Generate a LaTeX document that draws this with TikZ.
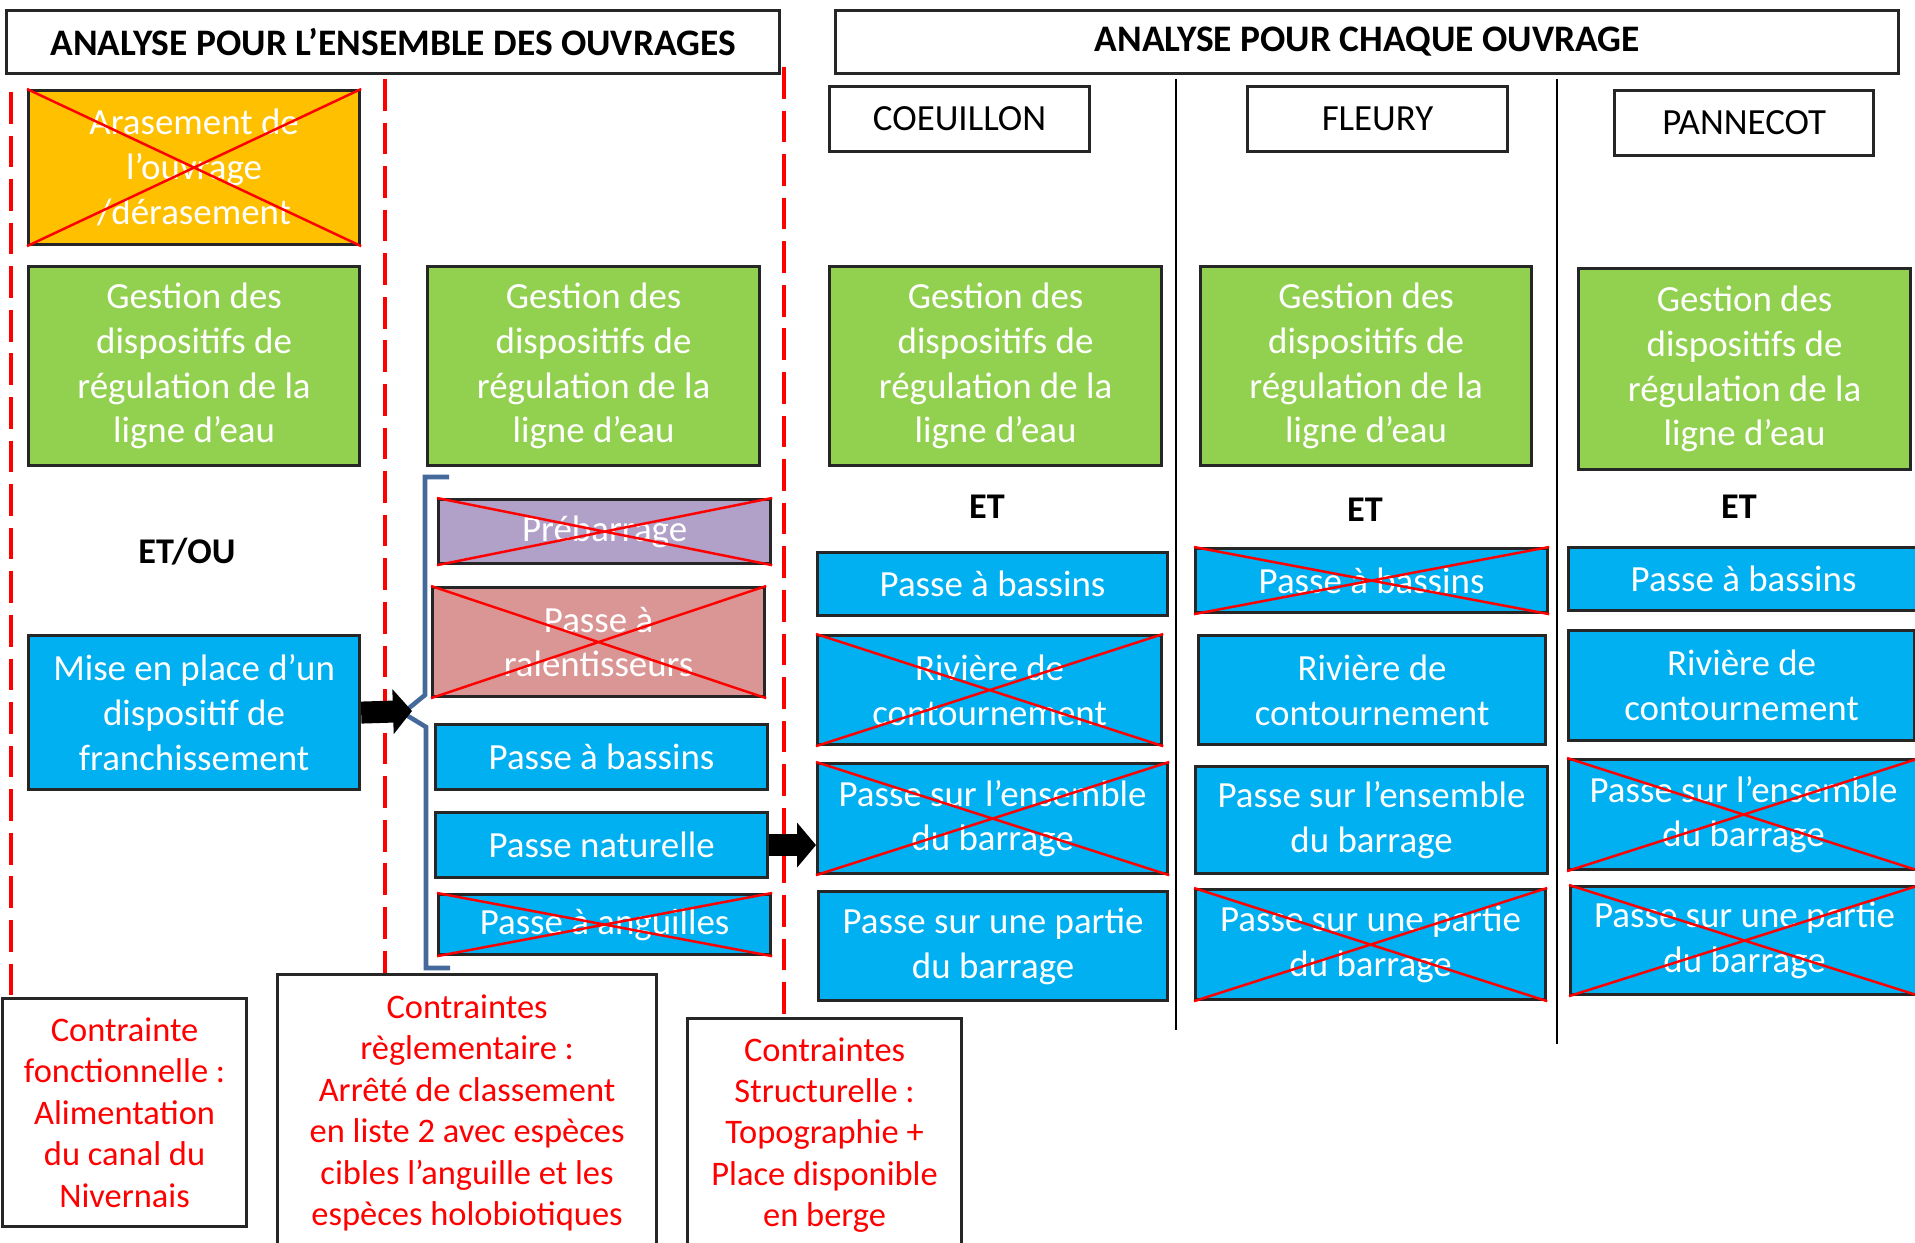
\documentclass[tikz,border=0pt]{standalone}
\usepackage{fontspec}
\setmainfont{Carlito}
\usepackage{tikz}
\usetikzlibrary{arrows.meta}

\definecolor{jaune}{HTML}{FFC000}
\definecolor{vert}{HTML}{92D050}
\definecolor{bleu}{HTML}{00B0F0}
\definecolor{mauve}{HTML}{B1A0C7}
\definecolor{rose}{HTML}{DA9694}
\definecolor{accolade}{HTML}{44699A}

\tikzset{
	cadre/.style={draw=black!85, line width=0.9pt, anchor=north west, inner sep=0pt, align=center, font=\fontsize{10.5}{12.75}\selectfont},
	action/.style={cadre, text=white},
	titre/.style={cadre, font=\bfseries\fontsize{10.65}{12}\selectfont},
	contrainte/.style={cadre, fill=white, text=red, font=\fontsize{9.8}{11.8}\selectfont},
	motcle/.style={font=\bfseries\fontsize{10.3}{12}\selectfont},
	limite/.style={red, line width=1.1pt, dash pattern=on 9pt off 3.4pt},
	separation/.style={black, line width=0.6pt},
	barre/.style={red, line width=0.7pt},
	fleche/.style={line width=0.22cm, -{Triangle[length=0.19cm, width=0.44cm]}}
}

\begin{document}
\begin{tikzpicture}
	\useasboundingbox (0,0) rectangle (19.15,-12.42);
	% titres
	\node[titre, minimum width=7.73cm, minimum height=0.63cm] (titreA) at (0.05,-0.09) {ANALYSE POUR L'ENSEMBLE DES OUVRAGES};
	\node[titre, minimum width=10.63cm, minimum height=0.63cm] (titreB) at (8.34,-0.09) {ANALYSE POUR CHAQUE OUVRAGE};
	\node[cadre, minimum width=2.6cm, minimum height=0.65cm] (coeuillon) at (8.28,-0.85) {COEUILLON};
	\node[cadre, minimum width=2.6cm, minimum height=0.65cm] (fleury) at (12.46,-0.85) {FLEURY};
	\node[cadre, minimum width=2.59cm, minimum height=0.65cm] (pannecot) at (16.13,-0.89) {PANNECOT};

	% contraintes
	\node[contrainte, minimum width=2.44cm, minimum height=2.28cm] (contrA) at (0.01,-9.97) {Contrainte\\fonctionnelle :\\Alimentation\\du canal du\\Nivernais};
	\node[contrainte, minimum width=3.79cm, minimum height=2.77cm] (contrB) at (2.76,-9.73) {Contraintes\\règlementaire :\\Arrêté de classement\\en liste 2 avec espèces\\cibles l'anguille et les\\espèces holobiotiques};
	\node[contrainte, minimum width=2.74cm, minimum height=2.33cm] (contrC) at (6.86,-10.17) {Contraintes\\Structurelle :\\Topographie +\\Place disponible\\en berge};

	\draw[limite] (0.11,-0.92) -- (0.11,-0.92 |- contrA.north);
	\draw[limite] (3.85,-0.79) -- (3.85,-0.79 |- contrB.north);
	\draw[limite] (7.84,-0.67) -- (7.84,-0.67 |- contrC.north);
	\draw[separation] (11.76,-0.79) -- (11.76,-10.30);
	\draw[separation] (15.57,-0.79) -- (15.57,-10.44);

	% ensemble des ouvrages
	\node[action, fill=jaune, minimum width=3.31cm, minimum height=1.54cm] (arasement) at (0.27,-0.89) {Arasement de\\l'ouvrage\\/dérasement};
	\node[action, fill=vert, minimum width=3.31cm, minimum height=1.99cm] (gestionA) at (0.27,-2.65) {Gestion des\\dispositifs de\\régulation de la\\ligne d'eau};
	\node[motcle] (etou) at (1.87,-5.52) {ET/OU};
	\node[action, fill=bleu, minimum width=3.31cm, minimum height=1.54cm] (mise) at (0.27,-6.34) {Mise en place d'un\\dispositif de\\franchissement};

	\node[action, fill=vert, minimum width=3.32cm, minimum height=1.99cm] (gestionB) at (4.26,-2.65) {Gestion des\\dispositifs de\\régulation de la\\ligne d'eau};
	\node[action, fill=mauve, minimum width=3.32cm, minimum height=0.64cm] (prebarrage) at (4.37,-4.98) {Prébarrage};
	\node[action, fill=rose, minimum width=3.32cm, minimum height=1.09cm] (ralentisseurs) at (4.31,-5.86) {Passe à\\ralentisseurs};
	\node[action, fill=bleu, minimum width=3.32cm, minimum height=0.65cm] (bassinsB) at (4.34,-7.23) {Passe à bassins};
	\node[action, fill=bleu, minimum width=3.32cm, minimum height=0.65cm] (naturelle) at (4.34,-8.11) {Passe naturelle};
	\node[action, fill=bleu, minimum width=3.32cm, minimum height=0.60cm] (anguilles) at (4.37,-8.93) {Passe à anguilles};

	\coordinate (pointe) at (4.12,-7.11);
	\draw[accolade, line width=1.3pt] (4.49,-4.77) -- (4.25,-4.77) -- (4.25,-6.95) -- (4.03,-7.13) -- (4.26,-7.27) -- (4.26,-9.68) -- (4.50,-9.68);
	\draw[fleche] (mise.east) -- (pointe);

	% Coeuillon
	\node[action, fill=vert, minimum width=3.32cm, minimum height=1.99cm] (gestionC) at (8.28,-2.65) {Gestion des\\dispositifs de\\régulation de la\\ligne d'eau};
	\node[motcle] (etC) at (9.87,-5.07) {ET};
	\node[action, fill=bleu, minimum width=3.5cm, minimum height=0.63cm] (bassinsC) at (8.16,-5.51) {Passe à bassins};
	\node[action, fill=bleu, minimum width=3.44cm, minimum height=1.09cm] (riviereC) at (8.16,-6.34) {Rivière de\\contournement};
	\node[action, fill=bleu, minimum width=3.5cm, minimum height=1.1cm] (ensembleC) at (8.16,-7.62) {Passe sur l'ensemble\\du barrage};
	\node[action, fill=bleu, minimum width=3.49cm, minimum height=1.09cm] (partieC) at (8.17,-8.9) {Passe sur une partie\\du barrage};
	\draw[fleche] (naturelle.east) -- (naturelle.east -| ensembleC.west);

	% Fleury
	\node[action, fill=vert, minimum width=3.31cm, minimum height=1.99cm] (gestionD) at (11.99,-2.65) {Gestion des\\dispositifs de\\régulation de la\\ligne d'eau};
	\node[motcle] (etD) at (13.65,-5.1) {ET};
	\node[action, fill=bleu, minimum width=3.52cm, minimum height=0.64cm] (bassinsD) at (11.94,-5.47) {Passe à bassins};
	\node[action, fill=bleu, minimum width=3.47cm, minimum height=1.09cm] (riviereD) at (11.97,-6.34) {Rivière de\\contournement};
	\node[action, fill=bleu, minimum width=3.52cm, minimum height=1.07cm] (ensembleD) at (11.94,-7.65) {Passe sur l'ensemble\\du barrage};
	\node[action, fill=bleu, minimum width=3.5cm, minimum height=1.1cm] (partieD) at (11.94,-8.88) {Passe sur une partie\\du barrage};

	% Pannecot
	\node[action, fill=vert, minimum width=3.32cm, minimum height=2.01cm] (gestionE) at (15.77,-2.67) {Gestion des\\dispositifs de\\régulation de la\\ligne d'eau};
	\node[motcle] (etE) at (17.39,-5.07) {ET};
	\node[action, fill=bleu, minimum width=3.5cm, minimum height=0.63cm] (bassinsE) at (15.67,-5.46) {Passe à bassins};
	\node[action, fill=bleu, minimum width=3.46cm, minimum height=1.1cm] (riviereE) at (15.67,-6.29) {Rivière de\\contournement};
	\node[action, fill=bleu, minimum width=3.5cm, minimum height=1.1cm] (ensembleE) at (15.67,-7.58) {Passe sur l'ensemble\\du barrage};
	\node[action, fill=bleu, minimum width=3.48cm, minimum height=1.08cm] (partieE) at (15.69,-8.85) {Passe sur une partie\\du barrage};

	% solutions ecartees
	\foreach \n in {arasement,prebarrage,ralentisseurs,anguilles,riviereC,ensembleC,bassinsD,partieD,ensembleE,partieE}
	\draw[barre] (\n.north west) -- (\n.south east) (\n.south west) -- (\n.north east);
\end{tikzpicture}
\end{document}
